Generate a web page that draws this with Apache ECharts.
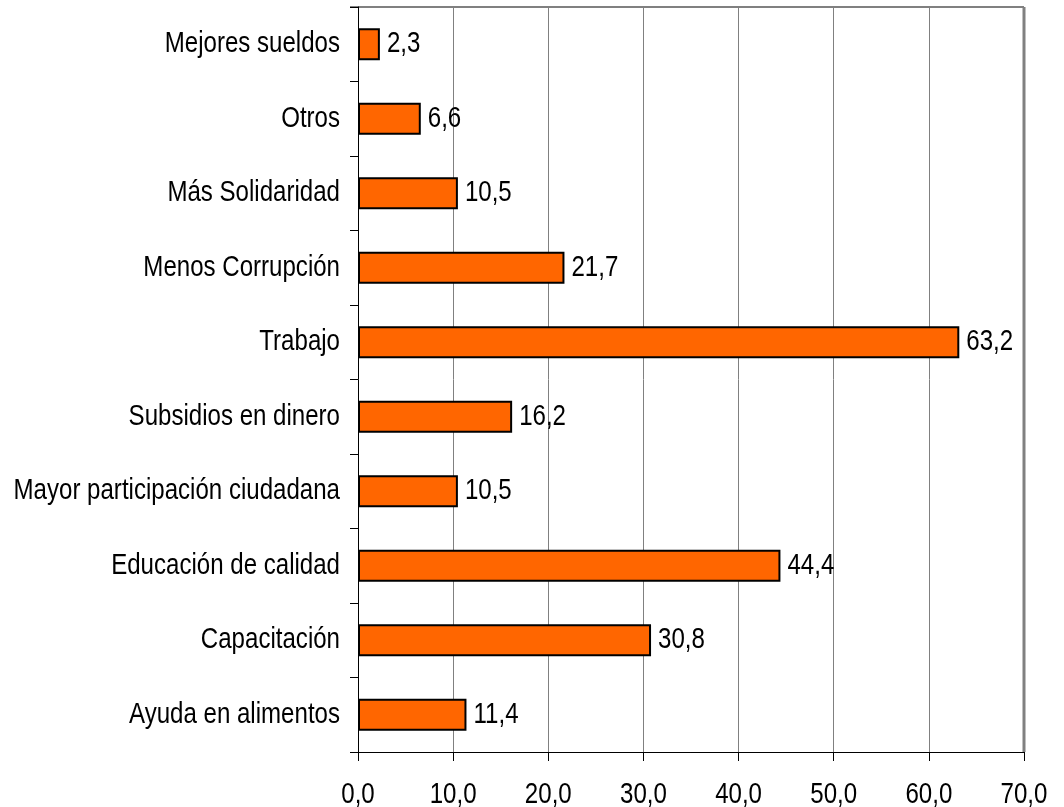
<!DOCTYPE html>
<html>
<head>
<meta charset="utf-8">
<script src="https://cdn.jsdelivr.net/npm/echarts@6/dist/echarts.min.js"></script>
<style>
  html, body { margin: 0; padding: 0; background: #fff; }
  #chart { width: 1064px; height: 807px; }
</style>
</head>
<body>
<div id="chart"></div>
<script>
// categories bottom to top
const categories = [
  'Ayuda en alimentos',
  'Capacitación',
  'Educación de calidad',
  'Mayor participación ciudadana',
  'Subsidios en dinero',
  'Trabajo',
  'Menos Corrupción',
  'Más Solidaridad',
  'Otros',
  'Mejores sueldos'
]
const values = [11.4, 30.8, 44.4, 10.5, 16.2, 63.2, 21.7, 10.5, 6.6, 2.3]

const fmt = v => v.toFixed(1).replace('.', ',')

// no narrow Arial installed: squeeze canvas text horizontally around its anchor
const proto = CanvasRenderingContext2D.prototype
const origFill = proto.fillText
proto.fillText = function (t, x, y, mw) {
  this.save()
  this.translate(x, y)
  this.scale(0.83, 1)
  origFill.call(this, t, 0, 0)
  this.restore()
}

const font = '"Liberation Sans", Arial, sans-serif'

const chart = echarts.init(document.getElementById('chart'))
chart.setOption({
  animation: false,
  textStyle: { fontFamily: font },
  grid: { left: 358, right: 40, top: 7, bottom: 55, containLabel: false, outerBoundsMode: 'none' },
  xAxis: {
    type: 'value',
    min: 0,
    max: 70,
    interval: 10,
    axisLine: { show: true, lineStyle: { color: '#000', width: 1 } },
    axisTick: { show: true, length: 9, lineStyle: { color: '#000' } },
    axisLabel: {
      color: '#000',
      fontSize: 29,
      margin: 28,
      fontFamily: font,
      formatter: v => fmt(v)
    },
    splitLine: { show: true, lineStyle: { color: '#808080', width: 1 } }
  },
  yAxis: {
    type: 'category',
    data: categories,
    axisLine: { show: true, lineStyle: { color: '#000', width: 1 } },
    axisTick: { show: true, length: 8, lineStyle: { color: '#000' } },
    axisLabel: { color: '#000', fontSize: 29, margin: 18, fontFamily: font },
    splitLine: { show: false }
  },
  series: [
    {
      type: 'bar',
      data: values,
      barWidth: 32,
      itemStyle: { color: '#FF6600', borderColor: '#000', borderWidth: 2 },
      label: {
        show: true,
        position: 'right',
        distance: 7,
        color: '#000',
        fontSize: 29,
        fontFamily: font,
        formatter: p => fmt(p.value)
      }
    }
  ],
  graphic: [
    // top and right frame of the plot area
    { type: 'line', shape: { x1: 350, y1: 7, x2: 1024, y2: 7 }, style: { stroke: '#808080', lineWidth: 2 } },
    { type: 'line', shape: { x1: 1024, y1: 7, x2: 1024, y2: 752 }, style: { stroke: '#808080', lineWidth: 3 } }
  ]
})
</script>
</body>
</html>
